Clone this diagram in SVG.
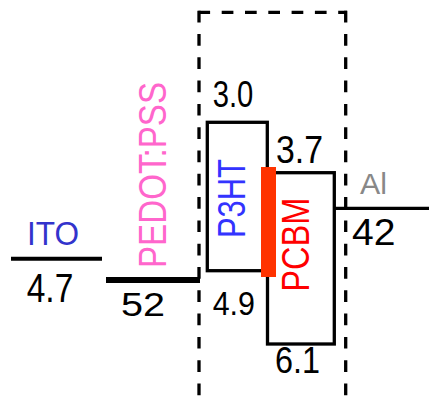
<svg xmlns="http://www.w3.org/2000/svg" width="429" height="400" viewBox="0 0 429 400">
<style>
text{font-family:"Liberation Sans",Arial,sans-serif;lengthAdjust:spacingAndGlyphs}
.num{fill:#000}
.box{fill:#fff;stroke:#000;stroke-width:3.3}
.dash{stroke:#000;stroke-width:3.3;stroke-dasharray:11.7 11.6;fill:none}
.lvl{stroke:#000;fill:none}
</style>
<rect width="429" height="400" fill="#fff"/>
<g id="frame">
<line class="dash" x1="198.4" y1="12.3" x2="347" y2="12.3"/>
<line class="dash" x1="199" y1="10.7" x2="199" y2="400"/>
<line class="dash" x1="345.7" y1="10.7" x2="345.7" y2="400"/>
</g>
<g id="connectors">
<line class="lvl" x1="11" y1="258.7" x2="102" y2="258.7" stroke-width="4"/>
<line class="lvl" x1="106" y1="280" x2="200" y2="280" stroke-width="6"/>
<line class="lvl" x1="333" y1="208.3" x2="429" y2="208.3" stroke-width="3.3"/>
</g>
<g id="ITO">
<text x="27" y="245" font-size="33" fill="#3333CC" textLength="52" lengthAdjust="spacingAndGlyphs">ITO</text>
<text class="num" x="26.7" y="302" font-size="41" textLength="46.6" lengthAdjust="spacingAndGlyphs">4.7</text>
</g>
<g id="PEDOT">
<text transform="translate(166,268) rotate(-90)" font-size="38" fill="#FF66CC" textLength="186" lengthAdjust="spacingAndGlyphs">PEDOT:PSS</text>
<text class="num" x="121" y="316" font-size="34" textLength="44" lengthAdjust="spacingAndGlyphs">52</text>
</g>
<g id="P3HT">
<rect class="box" x="207.3" y="122.3" width="60" height="148.4"/>
<text transform="translate(245,238) rotate(-90)" font-size="38" fill="#3333FF" textLength="79" lengthAdjust="spacingAndGlyphs">P3HT</text>
<text class="num" x="212.7" y="107" font-size="36" textLength="40.6" lengthAdjust="spacingAndGlyphs">3.0</text>
<text class="num" x="212.7" y="315" font-size="34" textLength="42.3" lengthAdjust="spacingAndGlyphs">4.9</text>
</g>
<g id="PCBM">
<rect class="box" x="267.5" y="172.7" width="66.8" height="171.3"/>
<text transform="translate(308.5,291.7) rotate(-90)" font-size="38" fill="#FF0000" textLength="94" lengthAdjust="spacingAndGlyphs">PCBM</text>
<text class="num" x="276" y="163" font-size="39" textLength="47" lengthAdjust="spacingAndGlyphs">3.7</text>
<text class="num" x="275" y="373" font-size="37" textLength="45" lengthAdjust="spacingAndGlyphs">6.1</text>
</g>
<g id="interface">
<rect x="261" y="167" width="15" height="110" fill="#FF3300"/>
</g>
<g id="Al">
<text x="360" y="193.5" font-size="30" fill="#888888" textLength="27" lengthAdjust="spacingAndGlyphs">Al</text>
<text class="num" x="352" y="245" font-size="37" textLength="43.5" lengthAdjust="spacingAndGlyphs">42</text>
</g>
</svg>
